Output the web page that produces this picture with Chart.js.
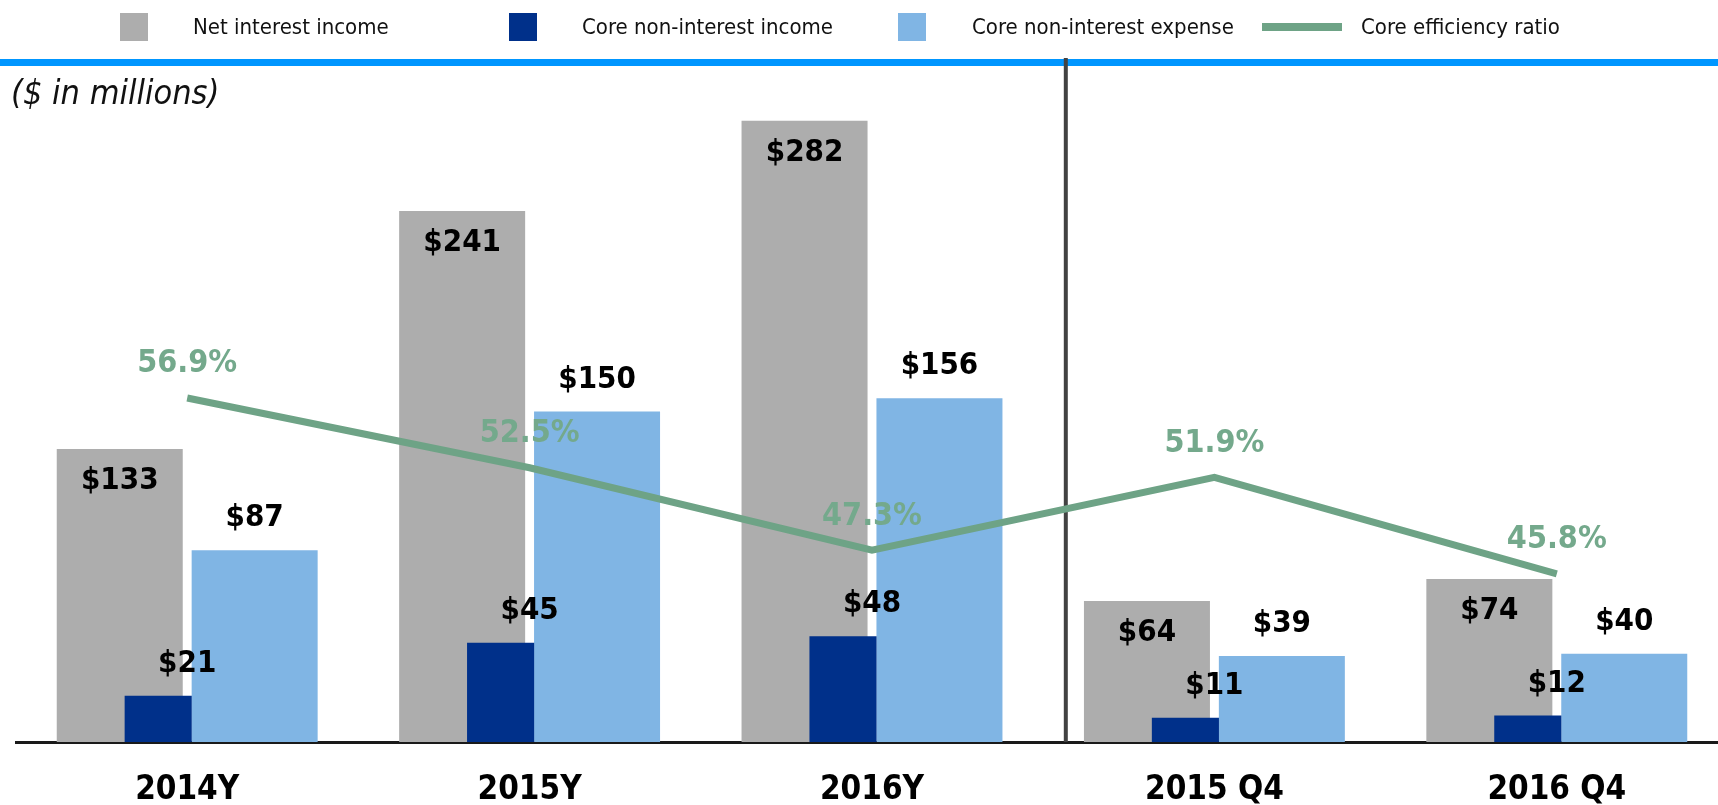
<!DOCTYPE html>
<html lang="en">
<head>
    <meta charset="UTF-8">
    <title>Core efficiency</title>
    <script src="https://cdn.jsdelivr.net/npm/chart.js"></script>
    <style>
        body { margin: 0; background: #fff; overflow: hidden; }
        #wrap { position: relative; width: 1730px; height: 805px; }
    </style>
</head>
<body>
    <div id="wrap"><canvas id="myChart"></canvas></div>

    <script>
        // Datos del grafico
        const categories = ['2014Y', '2015Y', '2016Y', '2015 Q4', '2016 Q4'];
        const netInterestIncome = [133, 241, 282, 64, 74];
        const coreNonInterestIncome = [21, 45, 48, 11, 12];
        const coreNonInterestExpense = [87, 150, 156, 39, 40];
        const coreEfficiencyRatio = [56.9, 52.5, 47.3, 51.9, 45.8];

        const FONT = '"DejaVu Sans Condensed", "DejaVu Sans", sans-serif';
        const GREEN = '#6ea386';

        // legend positions (x of swatch, x of text)
        const legendSlots = [[120, 193], [509, 582], [898, 972], [1262, 1361]];

        const deco = {
            id: 'deco',
            afterDatasetsUpdate(chart) {
                const x = chart.scales.x;
                const step = x.getPixelForValue(1) - x.getPixelForValue(0);
                chart.data.datasets.forEach((ds, i) => {
                    if (!ds.shift) return;
                    chart.getDatasetMeta(i).data.forEach(el => { el.x += ds.shift * step; });
                });
            },
            beforeDatasetsDraw(chart) {
                const ctx = chart.ctx;
                const area = chart.chartArea;
                ctx.save();
                // blue rule under legend
                ctx.fillStyle = '#0096ff';
                ctx.fillRect(0, 59, chart.width, 7);
                // separator between years and quarters
                const sx = chart.scales.x.getPixelForValue(2.566);
                ctx.fillStyle = '#424242';
                ctx.fillRect(sx - 2, 58, 4, area.bottom - 58);
                ctx.restore();
            },
            afterDatasetsDraw(chart) {
                const ctx = chart.ctx;
                const x = chart.scales.x;
                ctx.save();
                ctx.textAlign = 'center';
                ctx.textBaseline = 'middle';
                ctx.font = 'bold 31px ' + FONT;
                ctx.fillStyle = '#000';

                chart.getDatasetMeta(0).data.forEach((el, i) => {
                    ctx.fillText('$' + netInterestIncome[i], el.x, el.y + 32);
                });
                chart.getDatasetMeta(1).data.forEach((el, i) => {
                    ctx.fillText('$' + coreNonInterestIncome[i], x.getPixelForValue(i), el.y - 32);
                });
                chart.getDatasetMeta(2).data.forEach((el, i) => {
                    ctx.fillText('$' + coreNonInterestExpense[i], el.x, el.y - 32);
                });
                ctx.font = 'bold 32px ' + FONT;
                ctx.fillStyle = '#74a98c';
                chart.getDatasetMeta(3).data.forEach((el, i) => {
                    ctx.fillText(coreEfficiencyRatio[i].toFixed(1) + '%', el.x, el.y - 34);
                });

                // leyenda
                ctx.textAlign = 'left';
                ctx.font = '22px ' + FONT;
                chart.data.datasets.forEach((ds, i) => {
                    const [sx, tx] = legendSlots[i];
                    if (ds.type === 'line') {
                        ctx.fillStyle = ds.borderColor;
                        ctx.fillRect(sx, 23, 80, 8);
                    } else {
                        ctx.fillStyle = ds.backgroundColor;
                        ctx.fillRect(sx, 13, 28, 28);
                    }
                    ctx.fillStyle = '#111';
                    ctx.fillText(ds.label, tx, 28);
                });

                ctx.font = 'italic 34px ' + FONT;
                ctx.fillStyle = '#111';
                ctx.fillText('($ in millions)', 11, 95);
                ctx.restore();
            }
        };

        const ctx = document.getElementById('myChart').getContext('2d');
        const chart = new Chart(ctx, {
            data: {
                labels: categories,
                datasets: [{
                    type: 'bar',
                    label: 'Net interest income',
                    data: netInterestIncome,
                    backgroundColor: '#adadad',
                    grouped: false,
                    categoryPercentage: 1,
                    barPercentage: 0.368,
                    shift: -0.197,
                    order: 3
                }, {
                    type: 'bar',
                    label: 'Core non-interest income',
                    data: coreNonInterestIncome,
                    backgroundColor: '#00308a',
                    grouped: false,
                    categoryPercentage: 1,
                    barPercentage: 0.196,
                    shift: -0.0847,
                    order: 1
                }, {
                    type: 'bar',
                    label: 'Core non-interest expense',
                    data: coreNonInterestExpense,
                    backgroundColor: '#80b5e4',
                    grouped: false,
                    categoryPercentage: 1,
                    barPercentage: 0.368,
                    shift: 0.197,
                    order: 2
                }, {
                    type: 'line',
                    label: 'Core efficiency ratio',
                    data: coreEfficiencyRatio,
                    yAxisID: 'y2',
                    borderColor: GREEN,
                    borderWidth: 7,
                    borderJoinStyle: 'miter',
                    pointRadius: 0,
                    tension: 0,
                    order: 0
                }]
            },
            options: {
                responsive: true,
                maintainAspectRatio: false,
                animation: false,
                layout: { padding: { left: 16, right: 2, top: 81, bottom: 0 } },
                plugins: {
                    legend: { display: false },
                    tooltip: { enabled: false }
                },
                scales: {
                    x: {
                        offset: true,
                        grid: { display: false, drawTicks: false },
                        border: { display: true, color: '#1a1a1a', width: 3 },
                        ticks: {
                            color: '#000',
                            padding: 29,
                            font: { family: FONT, size: 33, weight: 'bold' }
                        },
                        afterFit: (s) => { s.height = 63; }
                    },
                    y: {
                        display: false,
                        min: 0,
                        max: 300
                    },
                    y2: {
                        display: false,
                        min: 35.2,
                        max: 76.9
                    }
                }
            },
            plugins: [deco]
        });
    </script>
</body>
</html>
